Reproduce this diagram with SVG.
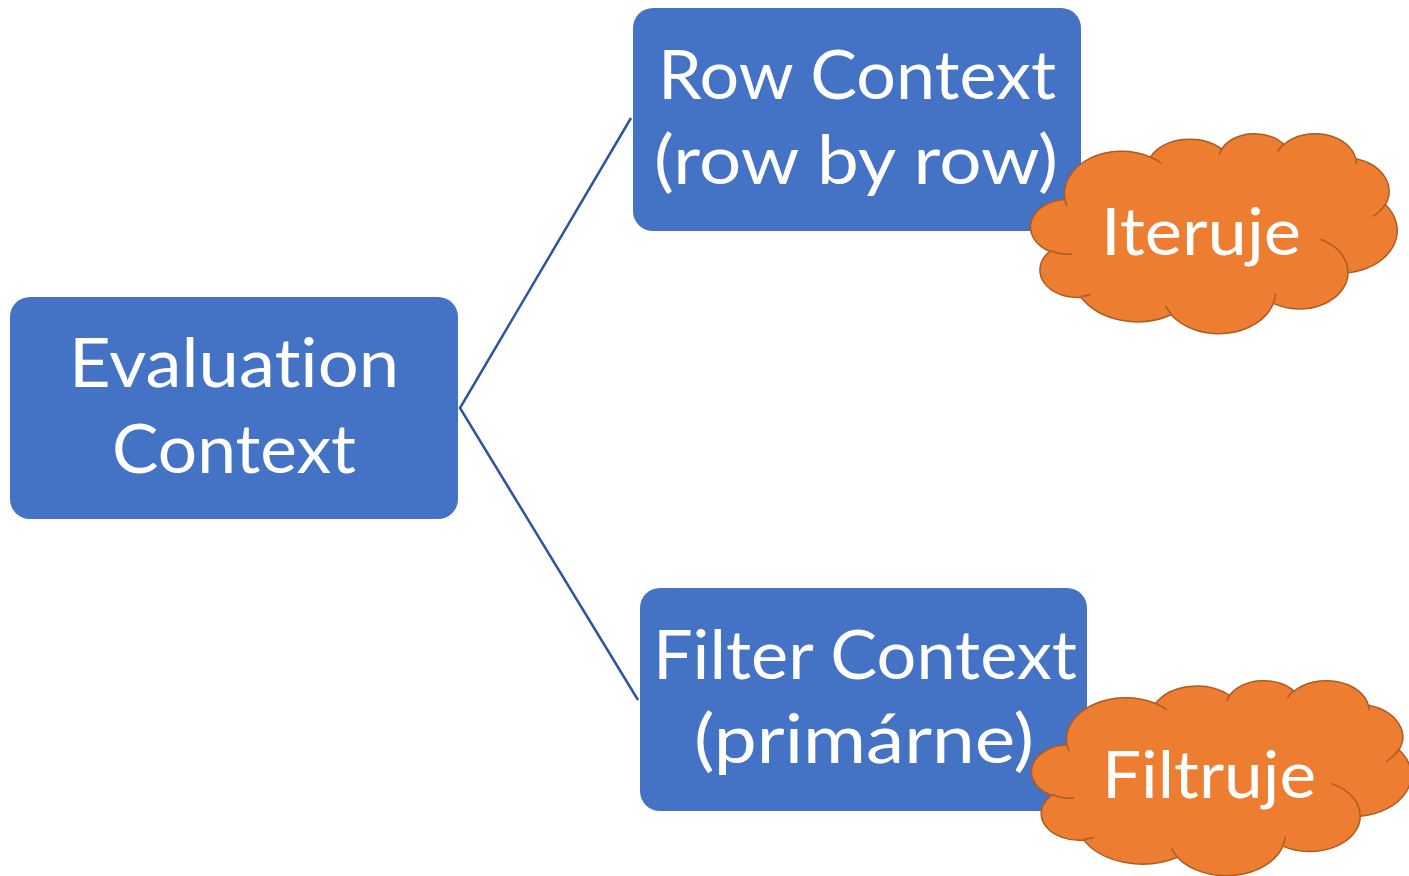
<svg xmlns="http://www.w3.org/2000/svg" xmlns:xlink="http://www.w3.org/1999/xlink" width="1409" height="876" viewBox="0 0 1409 876">
  <style>
    .box { fill: #4472C4; }
    .label { font-family: Lato, "Open Sans", "Liberation Sans", sans-serif; fill: #FFFFFF; text-anchor: middle; font-variant-ligatures: none; }
    .big { font-size: 68px; }
    .small { font-size: 66px; }
    .edge { fill: none; stroke: #2F55A0; stroke-width: 2.5; }
    .cloud-body { fill: #ED7D31; stroke: #AE5A21; stroke-width: 1.5; }
    .cloud-lines { fill: none; stroke: #AE5A21; stroke-width: 1.5; }
  </style>
  <defs>
    <!-- cloud outline in a 43200 x 43200 unit box -->
    <path id="cloudOutline" vector-effect="non-scaling-stroke" d="M3900,14370 A6753,9190 0 0 1 14005.5,5202.5 A5333,7267 0 0 1 22457.8,3432.3 A4365,5945 0 0 1 29835.6,2481.6 A4857,6595 0 0 1 38321.1,5576.4 A5333,7273 0 0 1 41821.5,15459.9 A6775,9220 0 0 1 37407.2,30202.7 A5785,7867 0 0 1 28558.5,36812.6 A6752,9215 0 0 1 16483.2,39264.9 A7720,10543 0 0 1 5807.1,35472.1 A4360,5918 0 0 1 2114.9,25551.6 A4345,5945 0 0 1 3900,14370 Z"/>
    <!-- small inner arcs where the puffs overlap -->
    <path id="cloudInner" vector-effect="non-scaling-stroke" d="M4693,26177 A4345,5945 0 0 1 2159.1,25379.4 M6928,34899 A4360,5918 0 0 1 5819.6,35280.4 M16478,39090 A6752,9215 0 0 1 15809.5,37347.8 M28827,34751 A6752,9215 0 0 1 28560.4,36659.7 M34129,22954 A5785,7867 0 0 1 37380.2,30089.4 M41798,15354 A5333,7273 0 0 1 40350,18030.2 M38324,5426 A4857,6595 0 0 1 38400.4,6689.6 M29078,3952 A4857,6595 0 0 1 29818.9,2342.1 M22141,4720 A4365,5945 0 0 1 22500.1,3330.4 M14000,5192 A6753,9190 0 0 1 15300.4,6541.3 M4127,15789 A6753,9190 0 0 1 3900.5,14371.4"/>
  </defs>

  <rect width="1409" height="876" fill="#FFFFFF"/>

  <g id="connectors">
    <path class="edge" d="M631,118 L460,408 L638,700"/>
  </g>

  <g id="node-evaluation">
    <rect class="box" x="10" y="297" width="448" height="222" rx="20" ry="20"/>
    <text class="label big" x="234" y="387" textLength="330" lengthAdjust="spacingAndGlyphs">Evaluation</text>
    <text class="label big" x="234" y="473" textLength="244" lengthAdjust="spacingAndGlyphs">Context</text>
  </g>

  <g id="node-row-context">
    <rect class="box" x="633" y="8" width="448" height="223" rx="20" ry="20"/>
    <text class="label big" x="857" y="99" textLength="398" lengthAdjust="spacingAndGlyphs">Row Context</text>
    <text class="label big" x="856" y="184" textLength="404" lengthAdjust="spacingAndGlyphs">(row by row)</text>
  </g>

  <g id="node-filter-context">
    <rect class="box" x="640" y="588" width="447" height="223" rx="20" ry="20"/>
    <text class="label big" x="865" y="679" textLength="424" lengthAdjust="spacingAndGlyphs">Filter Context</text>
    <text class="label big" x="864" y="763" textLength="340" lengthAdjust="spacingAndGlyphs">(primárne)</text>
  </g>

  <g id="node-iteruje">
    <g transform="translate(1032,133) scale(0.0084491,0.0046296)">
      <use xlink:href="#cloudOutline" class="cloud-body"/>
      <use xlink:href="#cloudInner" class="cloud-lines"/>
    </g>
    <text class="label small" x="1201" y="255" textLength="200" lengthAdjust="spacingAndGlyphs">Iteruje</text>
  </g>

  <g id="node-filtruje">
    <g transform="translate(1033,680) scale(0.00875,0.0045139)">
      <use xlink:href="#cloudOutline" class="cloud-body"/>
      <use xlink:href="#cloudInner" class="cloud-lines"/>
    </g>
    <text class="label small" x="1209" y="798" textLength="214" lengthAdjust="spacingAndGlyphs">Filtruje</text>
  </g>
</svg>
